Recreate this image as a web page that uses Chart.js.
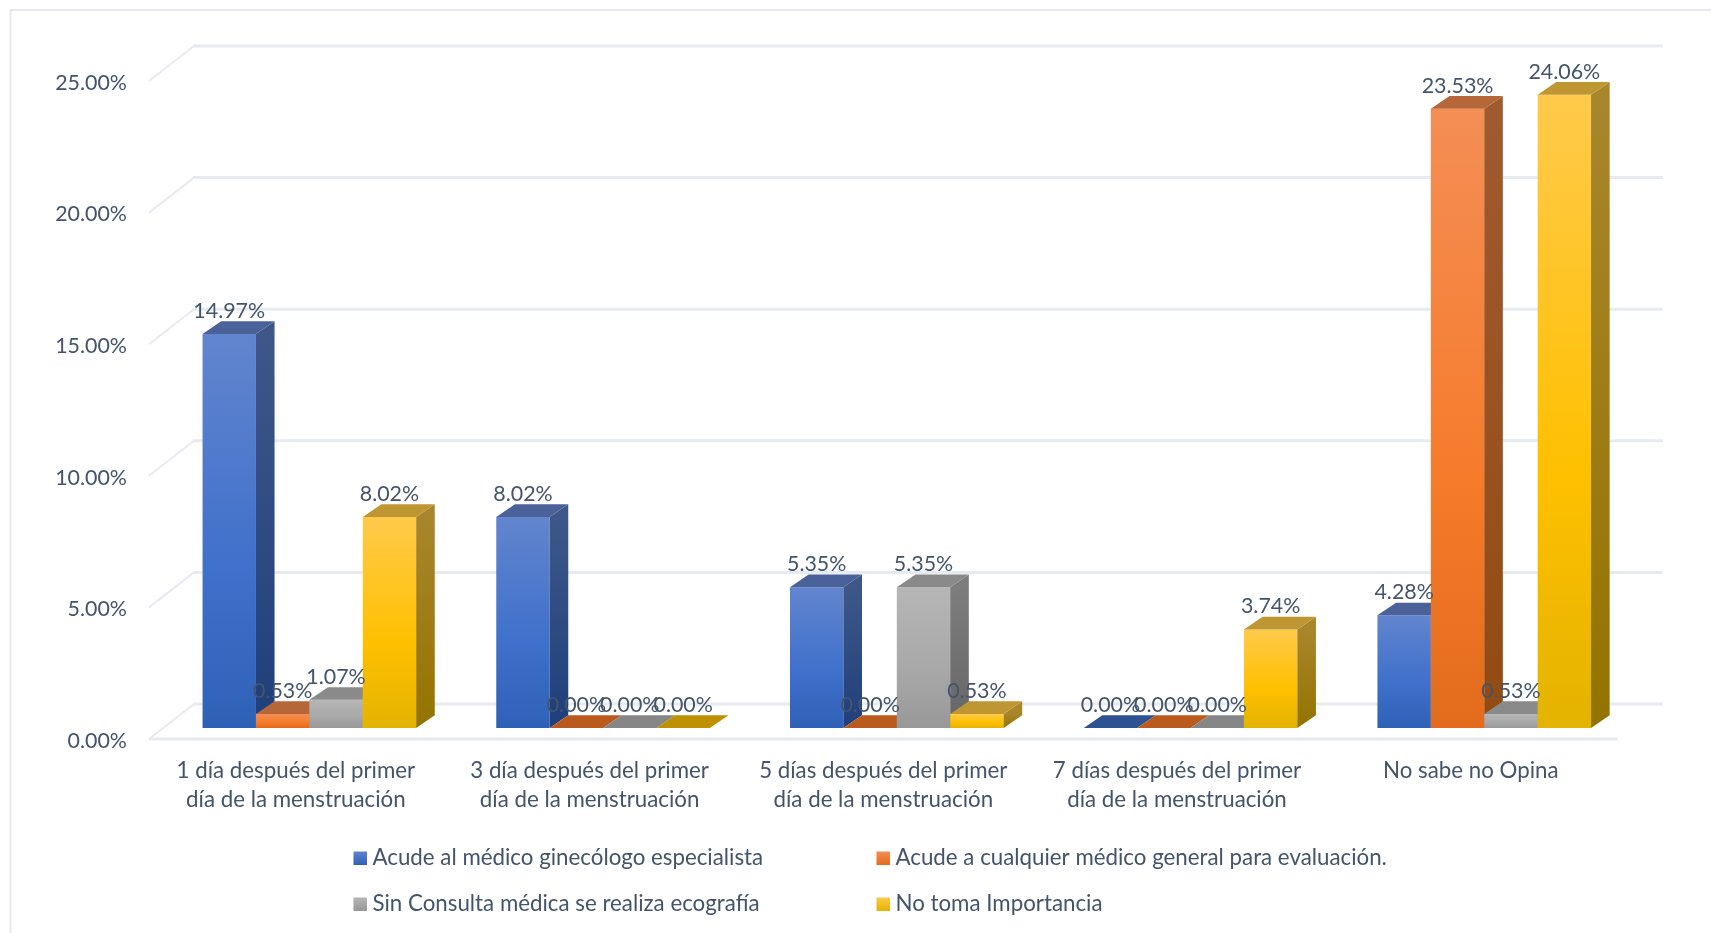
<!DOCTYPE html>
<html>
<head>
<meta charset="utf-8">
<title>Chart</title>
<script src="https://cdn.jsdelivr.net/npm/chart.js@4/dist/chart.umd.min.js"></script>
<style>
  html, body { margin: 0; padding: 0; background: #fff; overflow: hidden; }
  canvas { display: block; }
</style>
</head>
<body>
<canvas id="chart" width="1711" height="933"></canvas>
<script>
const categories = [
  ['1 día después del primer', 'día de la menstruación'],
  ['3 día después del primer', 'día de la menstruación'],
  ['5 días después del primer', 'día de la menstruación'],
  ['7 días después del primer', 'día de la menstruación'],
  'No sabe no Opina',
];
const seriesNames = [
  'Acude al médico ginecólogo especialista',
  'Acude a cualquier médico general para evaluación.',
  'Sin Consulta médica se realiza ecografía',
  'No toma Importancia',
];
const especialista = [14.97, 8.02, 5.35, 0, 4.28];
const medicoGeneral = [0.53, 0, 0, 0, 23.53];
const sinConsulta = [1.07, 0, 5.35, 0, 0.53];
const noToma = [8.02, 0, 0.53, 3.74, 24.06];
const seriesValues = [especialista, medicoGeneral, sinConsulta, noToma];

// front face gradient stops, then side and top colours, per series
const frontColors = [
  ['#6285CE', '#3F70CB', '#2E61B6'],
  ['#F48E55', '#F67B2B', '#E26C1C'],
  ['#B6B6B6', '#A8A8A8', '#989898'],
  ['#FFCA4B', '#FFC000', '#E3B300'],
];
const sideColors = [
  ['#3E5788', '#1F3F7B'],
  ['#A05A30', '#934A12'],
  ['#7D7D7D', '#666666'],
  ['#A8862C', '#937300'],
];
const topColors = ['#4A6199', '#B5673A', '#8A8A8A', '#BF9732'];
const topColorsZero = ['#2C5291', '#BA5A1C', '#868686', '#BF9000'];

const textColor = '#44546A';
const gridColor = '#E8EAF1';
const fontFamily = 'Lato, "Open Sans", sans-serif';
const fontSize = 22.3;
const numberFontSize = 21.4;

// 3D look: offset of the bars from the front plane, bar depth, wall depth
const barShift = { x: 13.5, y: -11 };
const barDepth = { x: 18.6, y: -12.7 };
const wallDepth = { x: 45, y: -35 };

const wallPlugin = {
  id: 'wall',
  beforeDatasetsDraw(chart) {
    const { ctx, chartArea, scales } = chart;
    ctx.save();
    ctx.strokeStyle = '#E4E7EE';
    ctx.lineWidth = 2;
    ctx.beginPath();
    ctx.moveTo(10.5, 933);
    ctx.lineTo(10.5, 10);
    ctx.lineTo(1711, 10);
    ctx.stroke();

    ctx.strokeStyle = gridColor;
    scales.y.ticks.forEach((tick) => {
      const y = scales.y.getPixelForValue(tick.value);
      ctx.lineWidth = 2;
      ctx.beginPath();
      ctx.moveTo(chartArea.left, y);
      ctx.lineTo(chartArea.left + wallDepth.x, y + wallDepth.y);
      ctx.stroke();
      ctx.lineWidth = 3;
      ctx.beginPath();
      ctx.moveTo(chartArea.left + wallDepth.x - 1, y + wallDepth.y);
      ctx.lineTo(chartArea.right + wallDepth.x, y + wallDepth.y);
      ctx.stroke();
    });
    const y0 = scales.y.getPixelForValue(0);
    ctx.beginPath();
    ctx.moveTo(chartArea.left, y0);
    ctx.lineTo(chartArea.right, y0);
    ctx.stroke();
    ctx.restore();
  },
};

function fillFace(ctx, points, fill) {
  ctx.fillStyle = fill;
  ctx.beginPath();
  points.forEach((p, i) => (i ? ctx.lineTo(p[0], p[1]) : ctx.moveTo(p[0], p[1])));
  ctx.closePath();
  ctx.fill();
}

// datasets are painted left to right here, the library would start with the last one
// and the front of a bar has to cover the side of the bar on its left
const bar3dPlugin = {
  id: 'bar3d',
  beforeDatasetsDraw(chart) {
    const { ctx } = chart;
    seriesValues.forEach((values, s) => {
      const meta = chart.getDatasetMeta(s);
      ctx.save();
      ctx.translate(barShift.x, barShift.y);
      meta.controller.draw();
      meta.data.forEach((bar, i) => {
        const left = bar.x - bar.width / 2;
        const right = bar.x + bar.width / 2;
        const dx = barDepth.x;
        const dy = barDepth.y;
        if (values[i] > 0) {
          const g = ctx.createLinearGradient(0, bar.y, 0, bar.base);
          g.addColorStop(0, sideColors[s][0]);
          g.addColorStop(1, sideColors[s][1]);
          fillFace(ctx, [[right, bar.y], [right + dx, bar.y + dy], [right + dx, bar.base + dy], [right, bar.base]], g);
        }
        const top = values[i] > 0 ? topColors[s] : topColorsZero[s];
        fillFace(ctx, [[left, bar.y], [left + dx, bar.y + dy], [right + dx, bar.y + dy], [right, bar.y]], top);
      });
      ctx.restore();
    });
    return false;
  },
};

const valueLabelPlugin = {
  id: 'valueLabels',
  afterDraw(chart) {
    const { ctx } = chart;
    ctx.save();
    ctx.font = numberFontSize + 'px ' + fontFamily;
    ctx.fillStyle = textColor;
    ctx.textAlign = 'center';
    ctx.textBaseline = 'middle';
    chart.data.datasets.forEach((ds, s) => {
      chart.getDatasetMeta(s).data.forEach((bar, i) => {
        ctx.fillText(ds.data[i].toFixed(2) + '%', bar.x + barShift.x, bar.y + barShift.y - 23);
      });
    });
    ctx.restore();
  },
};

// two column legend under the chart
const legendPlugin = {
  id: 'columnLegend',
  afterDraw(chart) {
    const { ctx } = chart;
    const columns = [353.5, 876.5];
    const rows = [858, 904];
    ctx.save();
    ctx.font = fontSize + 'px ' + fontFamily;
    ctx.textBaseline = 'middle';
    ctx.textAlign = 'left';
    chart.data.datasets.forEach((ds, s) => {
      const x = columns[s % 2];
      const y = rows[Math.floor(s / 2)];
      const g = ctx.createLinearGradient(0, y - 7, 0, y + 7);
      g.addColorStop(0, frontColors[s][0]);
      g.addColorStop(1, frontColors[s][2]);
      ctx.fillStyle = g;
      ctx.fillRect(x, y - 6.5, 13.5, 13.5);
      ctx.fillStyle = textColor;
      ctx.fillText(ds.label, x + 19, y);
    });
    ctx.restore();
  },
};

function frontFill(s) {
  return (context) => {
    if (context.dataIndex === undefined) return frontColors[s][1];
    const yScale = context.chart.scales.y;
    if (!yScale) return frontColors[s][1];
    const top = yScale.getPixelForValue(seriesValues[s][context.dataIndex]);
    const base = yScale.getPixelForValue(0);
    // scale has no size yet on the first pass
    if (!Number.isFinite(top) || !Number.isFinite(base) || top === base) return frontColors[s][1];
    const g = context.chart.ctx.createLinearGradient(0, top, 0, base);
    g.addColorStop(0, frontColors[s][0]);
    g.addColorStop(0.6, frontColors[s][1]);
    g.addColorStop(1, frontColors[s][2]);
    return g;
  };
}

new Chart(document.getElementById('chart'), {
  type: 'bar',
  data: {
    labels: categories,
    datasets: seriesValues.map((values, s) => ({
      label: seriesNames[s],
      data: values,
      backgroundColor: frontFill(s),
      borderWidth: 0,
      categoryPercentage: 0.7273,
      barPercentage: 1,
    })),
  },
  plugins: [wallPlugin, bar3dPlugin, valueLabelPlugin, legendPlugin],
  options: {
    responsive: false,
    animation: false,
    layout: { padding: { left: 0, top: 81, right: 93.4, bottom: 0 } },
    plugins: {
      legend: { display: false },
      tooltip: { enabled: false },
    },
    scales: {
      x: {
        afterFit(scale) { scale.height = 194; },
        grid: { display: false, drawTicks: false },
        border: { display: false },
        ticks: {
          color: textColor,
          font: { family: fontFamily, size: fontSize, lineHeight: 1.32 },
          padding: 17,
          maxRotation: 0,
          autoSkip: false,
        },
      },
      y: {
        min: 0,
        max: 25,
        afterFit(scale) { scale.width = 149; },
        grid: { display: false, drawTicks: false },
        border: { display: false },
        ticks: {
          stepSize: 5,
          color: textColor,
          font: { family: fontFamily, size: numberFontSize },
          padding: 22,
          labelOffset: 2,
          callback: (v) => v.toFixed(2) + '%',
        },
      },
    },
  },
});
</script>
</body>
</html>
